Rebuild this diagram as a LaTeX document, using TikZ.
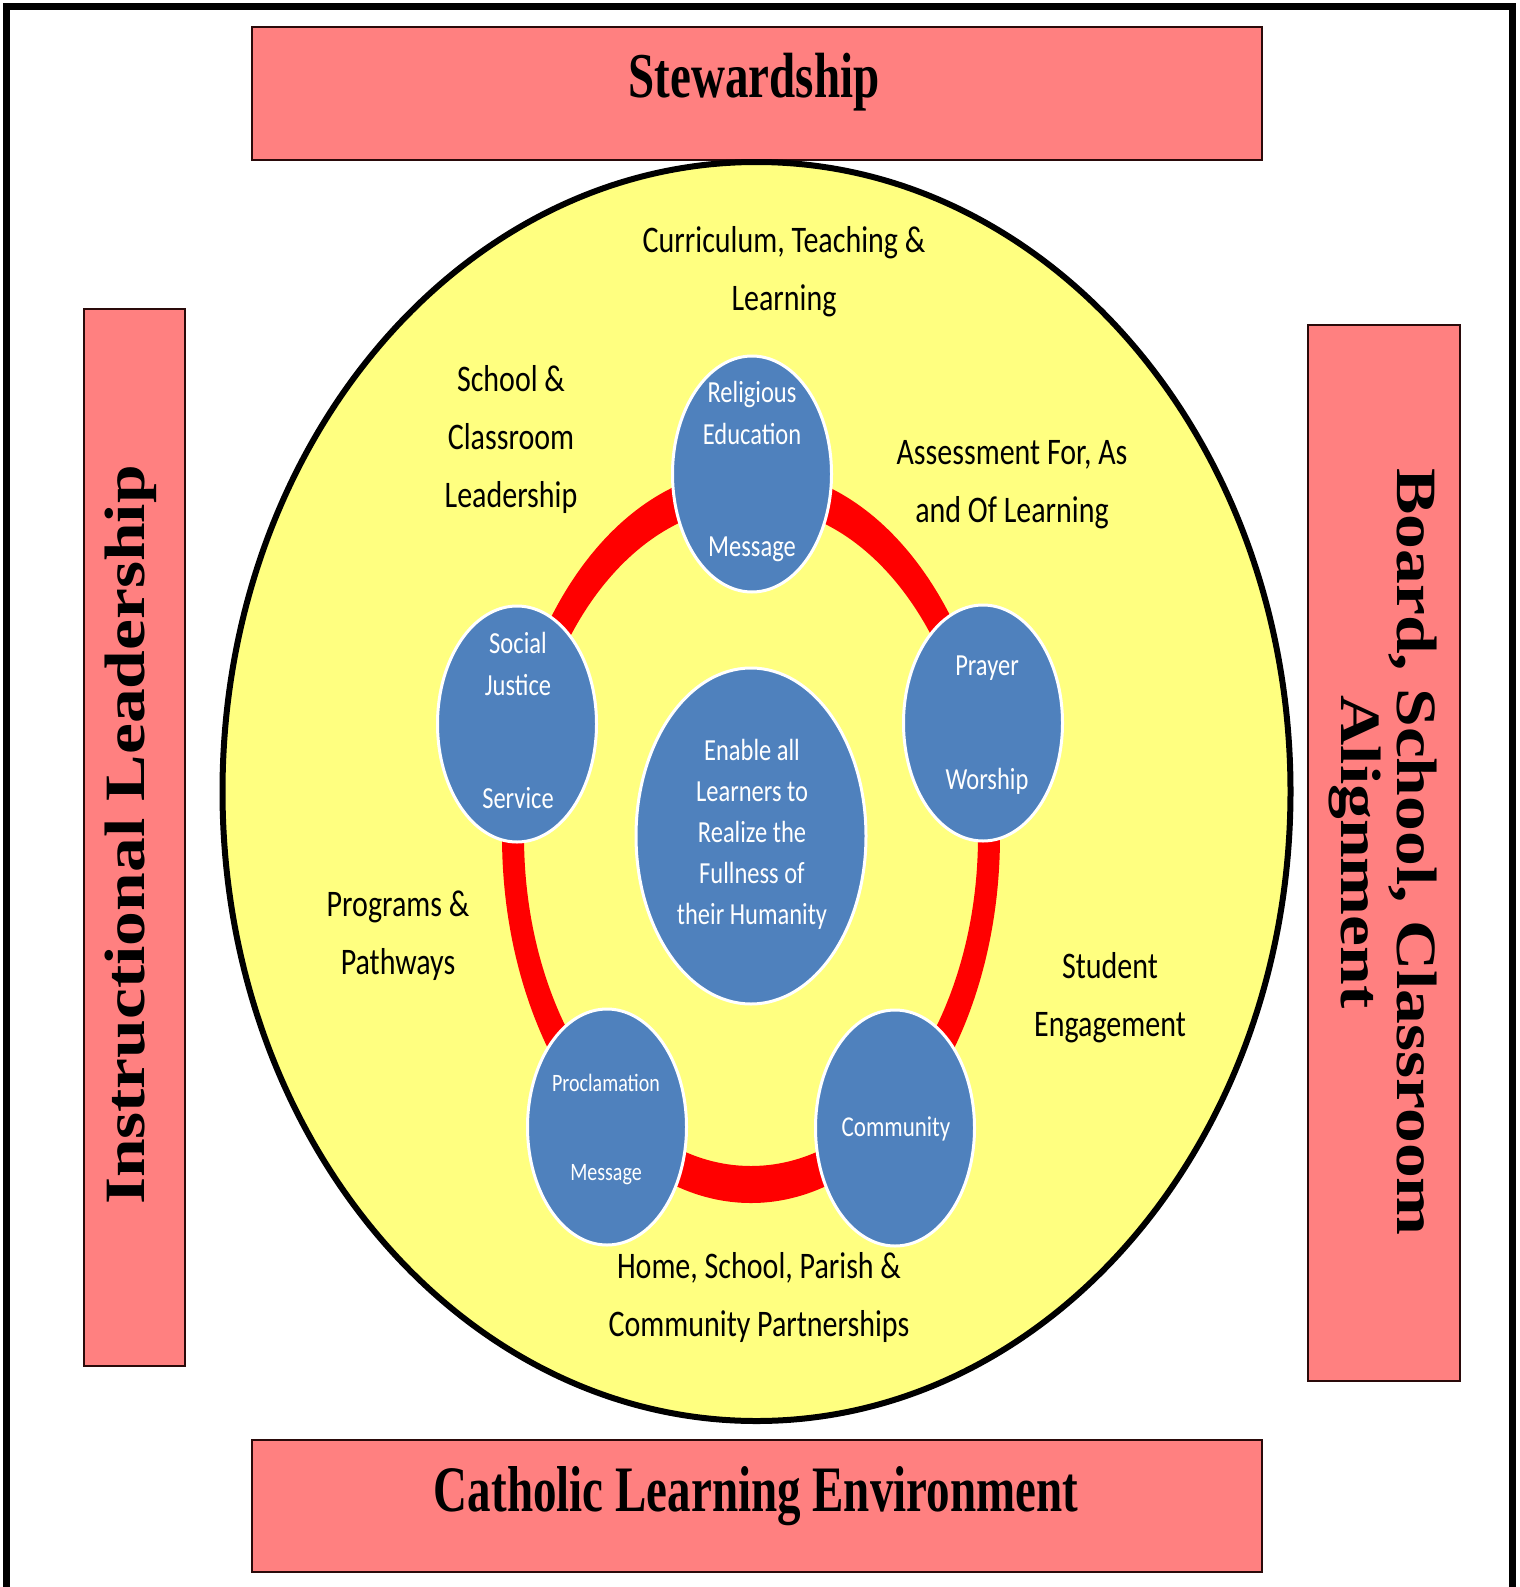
\documentclass[tikz,border=0pt]{standalone}
\usepackage{fontspec}
\setmainfont{Liberation Serif}
\newfontfamily\calfont{Carlito}
\usetikzlibrary{shapes.geometric}
\definecolor{salmon}{HTML}{FF8080}
\definecolor{lyellow}{HTML}{FFFF80}
\definecolor{oblue}{HTML}{4F81BD}
\definecolor{boxline}{HTML}{2A0A0A}
\newcommand{\vst}[2]{\scalebox{1}[#1]{\begin{tabular}{@{}c@{}}#2\end{tabular}}}
\newcommand{\hst}[2]{\scalebox{#1}[1]{\begin{tabular}{@{}c@{}}#2\end{tabular}}}
\tikzset{
  band/.style={rectangle, fill=salmon, draw=boxline, line width=2.5pt, inner sep=0pt},
  bluecirc/.style={ellipse, fill=oblue, draw=white, line width=3pt, inner sep=0pt, minimum width=159pt, minimum height=236pt},
  lbl/.style={inner sep=0pt, font=\calfont\fontsize{30}{46.4}\selectfont, text=black},
  wlbl/.style={inner sep=0pt, font=\calfont\fontsize{24.5}{33.6}\selectfont, text=white},
  titletext/.style={inner sep=0pt, font=\bfseries\fontsize{47}{56}\selectfont, text=black},
  sidetext/.style={inner sep=0pt, font=\bfseries\fontsize{57}{56}\selectfont, text=black}
}
\begin{document}
\begin{tikzpicture}[x=1pt,y=1pt]
\useasboundingbox (0,0) rectangle (1520,-1587);
\fill[white] (0,0) rectangle (1520,-1587);
% outer frame
\draw[line width=7pt, line join=miter] (6.5,-1587) -- (6.5,-6.5) -- (1512.5,-6.5) -- (1512.5,-1587);
% side bands
\node[band, minimum width=1010pt, minimum height=133pt] (stew) at (757,-93.5) {};
\node[band, minimum width=1010pt, minimum height=132pt] (cle) at (757,-1506) {};
\node[band, minimum width=101pt, minimum height=1057pt] (instr) at (134.5,-837.5) {};
\node[band, minimum width=152pt, minimum height=1056pt] (board) at (1384,-853) {};
% big circle
\node[ellipse, fill=lyellow, draw=black, line width=6pt, inner sep=0pt, minimum width=1068pt, minimum height=1259pt] (big) at (756.5,-791.5) {};
% red ring
\fill[red, even odd rule] (751,-836) ellipse [x radius=249pt, y radius=367pt]
                          (751,-836) ellipse [x radius=227pt, y radius=330pt];
% blue ellipses
\node[bluecirc] (rel) at (752,-474) {};
\node[bluecirc] (pray) at (983,-723) {};
\node[bluecirc] (comm) at (895,-1128) {};
\node[bluecirc] (procl) at (607,-1127) {};
\node[bluecirc] (soc) at (517,-724) {};
\node[bluecirc, minimum width=230pt, minimum height=336pt] (core) at (751,-836) {};
% titles
\node[titletext, anchor=base] (tstew) at (754,-91) {\vst{1.36}{Stewardship}};
\node[titletext, anchor=base] (tcle) at (756,-1505) {\vst{1.38}{Catholic Learning Environment}};
\node[sidetext, anchor=base, rotate=90] (tinstr) at (139,-835) {\hst{1.22}{Instructional Leadership}};
\node[sidetext, rotate=-90] (tboard) at (1381,-852) {\hst{1.22}{Board, School, Classroom\\Alignment}};
% black labels
\node[lbl] (lcurr) at (784,-270) {\vst{1.25}{Curriculum, Teaching \&\\Learning}};
\node[lbl] (lschool) at (511,-437.5) {\vst{1.25}{School \&\\Classroom\\Leadership}};
\node[lbl] (lassess) at (1012,-482) {\vst{1.25}{Assessment For, As\\and Of Learning}};
\node[lbl] (lstud) at (1110,-995.5) {\vst{1.25}{Student\\Engagement}};
\node[lbl] (lprog) at (398,-934) {\vst{1.25}{Programs \&\\Pathways}};
\node[lbl] (lhome) at (759,-1296) {\vst{1.25}{Home, School, Parish \&\\Community Partnerships}};
% white labels
\node[wlbl] (wrel) at (752,-415) {\vst{1.25}{Religious\\Education}};
\node[wlbl] (wrelm) at (752,-548) {\vst{1.25}{Message}};
\node[wlbl] (wpray) at (987,-667) {\vst{1.25}{Prayer}};
\node[wlbl] (wworship) at (987,-781) {\vst{1.25}{Worship}};
\node[wlbl, font=\calfont\fontsize{23}{33.6}\selectfont] (wcomm) at (896,-1128) {\vst{1.25}{Community}};
\node[wlbl, font=\calfont\fontsize{20}{33.6}\selectfont] (wprocl) at (606,-1083) {\vst{1.25}{Proclamation}};
\node[wlbl, font=\calfont\fontsize{20}{33.6}\selectfont] (wproclm) at (606,-1172) {\vst{1.25}{Message}};
\node[wlbl] (wsoc) at (518,-666.5) {\vst{1.25}{Social\\Justice}};
\node[wlbl] (wserv) at (518,-800) {\vst{1.25}{Service}};
\node[wlbl, font=\calfont\fontsize{24.5}{32.8}\selectfont] (wcore) at (752,-834) {\vst{1.25}{Enable all\\Learners to\\Realize the\\Fullness of\\their Humanity}};
\end{tikzpicture}
\end{document}
